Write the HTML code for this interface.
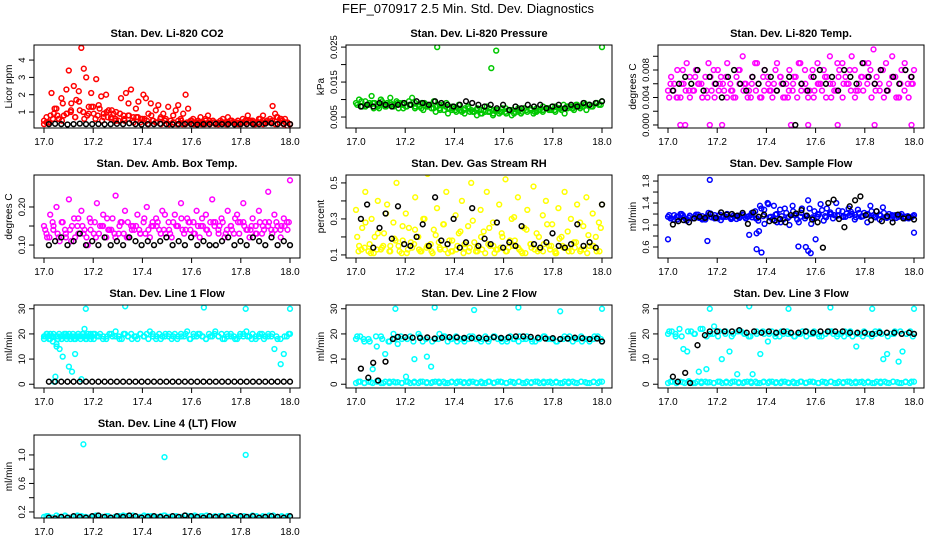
<!DOCTYPE html>
<html><head><meta charset="utf-8"><style>
html,body{margin:0;padding:0;background:#fff}
svg{display:block;font-family:"Liberation Sans",sans-serif}
</style></head><body>
<svg id="c" width="936" height="540" viewBox="0 0 936 540">
<text x="468" y="13" text-anchor="middle" font-size="13">FEF_070917  2.5 Min. Std. Dev. Diagnostics</text>
</svg>
<script>
// ---- data (y values; x spread evenly over given time span) ----
const xTicks=[17.0,17.2,17.4,17.6,17.8,18.0];
const co2Red=[0.5,0.7,0.4,2.1,0.9,1.2,0.6,1.8,0.8,2.3,3.4,1.5,2.5,1.7,2.2,4.7,3.5,3.0,1.3,2.1,0.9,2.9,1.4,1.9,0.7,2.0,1.1,0.6,0.9,1.0,0.5,1.8,0.8,2.1,1.5,2.3,0.7,1.2,1.6,0.6,2.0,1.8,0.9,1.5,0.5,1.1,1.4,0.7,0.9,0.6,1.3,0.5,0.8,1.1,1.4,0.6,0.9,2.0,1.2,0.5,0.6,0.4,0.5,0.7,0.4,0.6,0.8,0.4,0.5,0.3,0.4,0.5,0.6,0.4,0.7,0.5,0.4,0.3,0.5,0.4,0.6,0.5,0.8,0.4,0.5,0.3,0.4,0.6,0.5,0.4,0.5,0.6,1.35,0.9,0.7,0.6,0.5,0.6,0.4,0.3];
const co2RedBase=[0.3,0.4,0.6,0.8,0.5,0.9,1.0,0.7,1.1,0.6,0.9,1.3,0.8,0.5,1.0,0.7,0.6,0.9,0.5,0.8,0.4,0.7,0.6,0.5,0.8,0.4,0.6,0.5,0.3,0.4,0.5,0.3,0.4,0.5,0.3,0.4,0.3,0.5,0.4,0.3,0.4,0.3,0.5,0.4,0.3,0.4,0.5,0.3,0.4,0.3,0.4,0.5,0.7,0.6,0.4,0.3];
const co2Red3=[0.4,0.8,1.2,0.6,1.5,0.9,1.1,0.7,1.6,1.0,0.8,1.3,0.6,1.2,0.9,0.7,1.1,0.5,0.9,0.6,0.8,0.5,0.7,0.4,0.6,0.3,0.5,0.4,0.3,0.5,0.3,0.4,0.3,0.5,0.3,0.4,0.3,0.4,0.3,0.5,0.3,0.4,0.3,0.4,0.3,0.5,0.4,0.3,0.4,0.3,0.5,0.4,0.6,0.8,0.5,0.4,0.3,0.4,0.3,0.2];
const co2Black=[0.3,0.32,0.3,0.28,0.3,0.33,0.3,0.3,0.31,0.29,0.3,0.32,0.3,0.35,0.3,0.28,0.3,0.3,0.32,0.3,0.29,0.3,0.31,0.3,0.28,0.3,0.3,0.32,0.3,0.3,0.29,0.3,0.31,0.3,0.3,0.33,0.35,0.3,0.32,0.3];
const presGreen=[0.009,0.010,0.008,0.0095,0.0085,0.011,0.009,0.008,0.010,0.0085,0.009,0.0105,0.008,0.0095,0.009,0.0085,0.008,0.0095,0.0105,0.009,0.0085,0.0075,0.009,0.008,0.0085,0.0095,0.008,0.007,0.0085,0.009,0.0075,0.008,0.007,0.0085,0.0065,0.0075,0.008,0.007,0.0065,0.0075,0.006,0.007,0.008,0.0065,0.0055,0.007,0.006,0.0075,0.0065,0.007,0.0055,0.0065,0.007,0.006,0.0075,0.0065,0.007,0.006,0.0075,0.007,0.0065,0.0075,0.007,0.008,0.0065,0.0075,0.007,0.006,0.0075,0.008,0.007,0.0085,0.0075,0.008,0.007,0.0085,0.008,0.009,0.0085,0.0095];
const presGreen2=[0.008,0.0085,0.009,0.0075,0.008,0.0085,0.009,0.0075,0.0085,0.008,0.009,0.008,0.0075,0.0085,0.008,0.007,0.0075,0.007,0.0065,0.007,0.006,0.0065,0.007,0.0065,0.006,0.007,0.0065,0.0075,0.007,0.0065,0.007,0.0075,0.007,0.0075,0.008,0.0075,0.008,0.0085,0.008,0.009];
const presGreen3=[0.0085,0.0095,0.008,0.009,0.0075,0.0085,0.0095,0.008,0.009,0.0085,0.0075,0.009,0.008,0.0085,0.0075,0.008,0.007,0.0085,0.0075,0.0065,0.0075,0.007,0.006,0.0075,0.0065,0.007,0.006,0.0075,0.0065,0.0055,0.007,0.0065,0.0075,0.006,0.007,0.0065,0.0075,0.007,0.006,0.0075,0.0065,0.007,0.0075,0.0065,0.007,0.008,0.0075,0.007,0.008,0.0075,0.0085,0.008,0.0075,0.0085,0.008,0.009,0.0085,0.008,0.009,0.0085];
const presOutX=[17.33,17.55,17.57,18.0];
const presOutY=[0.025,0.019,0.024,0.025];
const presBlack=[0.008,0.0085,0.008,0.009,0.0085,0.008,0.0085,0.009,0.0085,0.0095,0.009,0.0085,0.0095,0.009,0.0085,0.008,0.0085,0.0095,0.009,0.0085,0.008,0.0085,0.0075,0.0085,0.007,0.008,0.0075,0.0085,0.008,0.0085,0.0075,0.008,0.0085,0.0075,0.0085,0.008,0.009,0.0085,0.009,0.0095];
const tempMag=[0.005,0.007,0.006,0.008,0.004,0.006,0.009,0.007,0.005,0.008,0.006,0.004,0.007,0.009,0.005,0.006,0.008,0.007,0.005,0.009,0.006,0.004,0.007,0.008,0.010,0.006,0.005,0.007,0.009,0.006,0.004,0.008,0.007,0.005,0.006,0.009,0.007,0.004,0.006,0.008,0.005,0.007,0.009,0.006,0.008,0.004,0.007,0.005,0.009,0.006,0.008,0.007,0.010,0.006,0.005,0.008,0.009,0.007,0.006,0.010,0.008,0.005,0.007,0.009,0.006,0.008,0.011,0.007,0.005,0.008,0.009,0.006,0.010,0.007,0.004,0.008,0.009,0.006,0.007,0.008];
const tempMag2=[0.006,0.004,0.008,0.005,0.007,0.006,0.004,0.008,0.006,0.007,0.005,0.008,0.006,0.004,0.009,0.007,0.005,0.008,0.006,0.004,0.007,0.009,0.005,0.008,0.006,0.007,0.004,0.009,0.006,0.008,0.005,0.007,0.009,0.006,0.008,0.005,0.007,0.004,0.008,0.006];
const tempMag3=[0.004,0.005,0.004,0.006,0.005,0.004,0.005,0.006,0.004,0.005,0.007,0.004,0.005,0.006,0.004,0.005,0.004,0.006,0.005,0.004,0.006,0.005,0.004,0.005,0.006,0.004,0.005,0.007,0.004,0.005,0.006,0.004,0.005,0.006,0.005,0.004,0.006,0.005,0.004,0.006,0.005,0.007,0.004,0.006,0.005,0.004,0.006,0.005,0.007,0.004,0.005,0.006,0.004,0.005,0.007,0.004,0.006,0.005,0.004,0.006];
const tempZeroX=[17.05,17.07,17.17,17.22,17.5,17.57,17.69,17.84,17.99];
const tempZeroY=[0,0,0,0,0,0,0,0,0];
const tempBlack=[0.005,0.006,0.007,0.006,0.008,0.005,0.007,0.006,0.004,0.007,0.008,0.006,0.005,0.007,0.006,0.008,0.007,0.005,0.006,0.007,0.0,0.006,0.005,0.007,0.008,0.006,0.007,0.005,0.008,0.007,0.006,0.009,0.007,0.006,0.008,0.005,0.007,0.006,0.008,0.007];
const ambMag=[0.15,0.12,0.18,0.14,0.20,0.11,0.16,0.13,0.22,0.15,0.12,0.17,0.19,0.14,0.10,0.16,0.13,0.21,0.15,0.18,0.12,0.14,0.17,0.23,0.13,0.16,0.19,0.12,0.15,0.14,0.18,0.13,0.16,0.20,0.12,0.15,0.17,0.14,0.19,0.13,0.16,0.12,0.18,0.15,0.21,0.13,0.17,0.14,0.16,0.19,0.12,0.15,0.18,0.13,0.22,0.16,0.14,0.17,0.12,0.19,0.15,0.13,0.18,0.16,0.21,0.14,0.12,0.17,0.15,0.19,0.13,0.16,0.24,0.14,0.18,0.15,0.12,0.17,0.16,0.27];
const ambMag2=[0.13,0.16,0.12,0.14,0.11,0.15,0.13,0.17,0.12,0.15,0.14,0.13,0.16,0.12,0.15,0.14,0.13,0.15,0.16,0.14,0.13,0.15,0.14,0.16,0.13,0.15,0.14,0.16,0.15,0.13,0.14,0.16,0.15,0.14,0.13,0.15,0.16,0.14,0.15,0.14];
const ambMag3=[0.14,0.12,0.15,0.13,0.16,0.12,0.14,0.17,0.13,0.15,0.12,0.14,0.16,0.13,0.15,0.17,0.14,0.12,0.15,0.13,0.16,0.14,0.15,0.13,0.17,0.14,0.16,0.15,0.13,0.18,0.14,0.16,0.15,0.17,0.14,0.16,0.13,0.15,0.17,0.14,0.16,0.15,0.13,0.16,0.14,0.15,0.17,0.13,0.16,0.14,0.15,0.13,0.16,0.14,0.15,0.13,0.16,0.14,0.15,0.16];
const ambBlack=[0.10,0.11,0.12,0.10,0.11,0.13,0.10,0.11,0.10,0.12,0.10,0.11,0.10,0.12,0.11,0.10,0.11,0.10,0.11,0.12,0.10,0.11,0.10,0.12,0.10,0.11,0.10,0.10,0.11,0.12,0.10,0.11,0.10,0.12,0.11,0.10,0.12,0.10,0.11,0.10];
const rhYel=[0.35,0.15,0.25,0.45,0.12,0.30,0.20,0.40,0.13,0.22,0.38,0.15,0.28,0.50,0.12,0.18,0.33,0.25,0.14,0.42,0.20,0.12,0.30,0.55,0.16,0.24,0.36,0.13,0.27,0.45,0.18,0.12,0.32,0.22,0.40,0.14,0.26,0.50,0.17,0.12,0.35,0.23,0.45,0.15,0.28,0.13,0.38,0.20,0.52,0.14,0.30,0.18,0.42,0.12,0.25,0.35,0.16,0.48,0.22,0.13,0.32,0.40,0.15,0.27,0.12,0.36,0.20,0.45,0.14,0.30,0.17,0.38,0.12,0.26,0.42,0.15,0.33,0.20,0.28,0.38];
const rhYel2=[0.12,0.14,0.11,0.13,0.15,0.12,0.18,0.11,0.13,0.16,0.12,0.14,0.11,0.17,0.13,0.12,0.15,0.11,0.14,0.12,0.13,0.16,0.11,0.14,0.12,0.15,0.13,0.11,0.14,0.12,0.16,0.13,0.11,0.15,0.12,0.14,0.13,0.11,0.15,0.12];
const rhYel3=[0.2,0.13,0.28,0.16,0.11,0.22,0.14,0.33,0.12,0.19,0.15,0.26,0.11,0.17,0.24,0.13,0.3,0.15,0.12,0.21,0.14,0.27,0.11,0.18,0.13,0.23,0.16,0.12,0.29,0.14,0.2,0.11,0.25,0.15,0.13,0.22,0.12,0.18,0.31,0.14,0.11,0.24,0.16,0.13,0.2,0.12,0.27,0.15,0.11,0.19,0.14,0.23,0.12,0.17,0.28,0.13,0.21,0.15,0.12,0.25];
const rhBlack=[0.30,0.38,0.14,0.25,0.33,0.19,0.37,0.16,0.15,0.20,0.27,0.15,0.42,0.18,0.16,0.30,0.14,0.17,0.36,0.15,0.19,0.16,0.28,0.14,0.17,0.15,0.26,0.59,0.16,0.14,0.17,0.22,0.15,0.14,0.16,0.27,0.15,0.17,0.14,0.38];
const flowBlue=[1.15,1.12,1.18,1.10,1.20,1.14,1.08,1.17,1.12,1.19,1.13,1.16,1.10,1.22,1.14,1.18,1.12,1.09,1.16,1.20,1.13,1.17,1.11,1.15,1.19,1.12,1.16,1.14,1.25,1.08,1.30,1.02,1.40,1.15,1.35,1.05,1.28,1.10,1.22,1.00,1.35,1.18,1.05,1.30,1.12,1.45,1.02,1.25,1.15,1.38,1.08,1.30,1.20,1.12,1.40,1.18,1.25,1.15,1.30,1.20,1.10,1.28,1.15,1.22,1.05,1.35,1.18,1.25,1.10,1.32,1.15,1.20,1.12,1.18,1.15,1.20,1.12,1.16,1.14,1.18];
const flowBlue2=[1.12,1.15,1.18,1.13,1.16,1.12,1.17,1.14,1.19,1.15,1.13,1.17,1.15,1.18,1.12,1.16,1.14,1.19,1.16,1.13,1.18,1.15,1.17,1.14,1.19,1.16,1.2,1.17,1.15,1.18,1.14,1.16,1.19,1.15,1.17,1.13,1.16,1.18,1.15,1.14];
const flowBlue3=[1.18,1.1,1.14,1.2,1.11,1.16,1.13,1.19,1.1,1.15,1.21,1.12,1.17,1.14,1.2,1.11,1.16,1.13,1.18,1.15,1.22,1.12,1.35,1.28,1.38,1.1,1.2,1.05,1.3,1.15,1.25,1.1,1.22,1.16,1.3,1.12,1.2,1.27,1.14,1.23,1.18,1.26,1.15,1.21,1.24,1.19,1.22,1.16,1.2,1.25,1.14,1.19,1.22,1.15,1.18,1.13,1.17,1.15,1.12,1.16];
const flowOutX=[17.0,17.17,17.16,17.36,17.38,17.53,17.57,17.58,17.56,17.6,17.37,17.36,17.33,18.0];
const flowOutY=[0.74,1.82,0.71,0.56,0.5,0.61,0.53,0.49,0.6,0.74,0.89,0.85,0.82,0.86];
const flowBlack=[1.01,1.07,1.09,1.05,1.12,1.15,1.13,1.20,1.13,1.23,1.19,1.20,1.17,1.22,1.02,1.23,1.15,1.19,1.07,1.08,1.11,1.05,1.18,1.21,1.27,1.17,1.10,1.05,0.59,1.40,1.46,1.11,0.96,1.34,1.45,1.52,1.18,1.09,1.25,1.07,1.16,1.05,1.19,1.12,1.14,1.10];
const l1Cyan=[19,20,18,19,16,14,11,19,7,5,12,20,2,22,19,20,18,19,20,19,18,20,19,21,19,18,20,19,20,19,18,20,19,20,21,19,18,20,19,20,19,18,20,19,20,19,21,18,20,19,20,19,18,20,19,21,19,20,18,19,20,19,18,20,19,21,19,20,18,19,20,19,20,19,14,18,8,12,19,20];
const l1Cyan2=[18,19,20,19,18,20,19,17,1,3,15,18,20,19,18,19,20,19,18,19,20,18,19,20,19,18,19,20,19,18,19,20,19,18,19,20,19,18,19,20];
const l1Cyan3=[19,18,20,19,18,20,19,18,19,20,18,19,20,19,18,19,20,19,18,20,19,18,19,20,19,18,20,19,18,19,20,19,18,19,20,18,19,20,19,18,19,20,19,18,20,19,18,19,20,19,18,19,20,18,19,20,19,18,19,20];
const l1OutX=[17.17,17.33,17.65,17.82,18.0];
const l1OutY=[30,31,30.5,30,30];
const l1Black=[1,1,1,1,1,1,1,1,1,1,1,1,1,1,1,1,1,1,1,1,1,1,1,1,1,1,1,1,1,1,1,1,1,1,1,1,1,1,1,1];
const l2CyanTop=[18,19,17,18,6,15,19,12,17,20,16,18,3,19,10,20,17,11,7,18,20,19,17,18,19,18,17,18,19,18,17,19,18,19,18,17,18,19,18,17,18,19,18,17,18,19,18,18,17,18,19,18,17,18,19,18,17,18,19,17];
const l2CyanTop2=[19,18,17,19,18,17,18,19,18,17,19,18,17,18,19,18,17,18,19,18,18,17,19,18,17,18,19,18,17,18,19,18,17,18,19,18,17,18,19,18];
const l2CyanBot=[0.5,1,0.5,1,0.5,1.2,0.5,1,0.5,1,0.8,0.5,1,0.5,1,0.5,1,0.8,0.5,1,0.5,1,0.5,1,0.5,1,0.8,0.5,1,0.5,1,0.5,1,0.5,1,0.8,0.5,1,0.5,1,0.5,1,0.5,1,0.5,1,0.8,0.5,1,0.5,1,0.5,1,0.5,1,0.8,0.5,1,0.5,1];
const l2CyanBot2=[1,0.5,0.8,1,0.5,1,0.7,0.5,1,0.6,1,0.5,0.9,1,0.5,0.8,1,0.5,1,0.7,0.5,1,0.6,1,0.5,0.9,1,0.5,0.8,1,0.5,1,0.7,0.5,1,0.6,1,0.5,0.9,1];
const l2OutX=[17.16,17.32,17.48,17.66,17.83,18.0];
const l2OutY=[30,30.5,29.5,30.5,29,30];
const l2BlackX=[17.02,17.05,17.07,17.09,17.12,17.15,17.17,17.2,17.23,17.26,17.29,17.32,17.35,17.38,17.41,17.44,17.47,17.5,17.53,17.56,17.59,17.62,17.65,17.68,17.71,17.74,17.77,17.8,17.83,17.86,17.89,17.92,17.95,17.98,18.0];
const l2BlackY=[6.2,2.6,8.5,1.5,9,18,18.8,18.7,18.5,18.4,18.6,18.2,18.5,18.7,18.6,18.4,18.3,18.5,18.2,18.7,18.4,18.6,19,19,18.8,18.5,18.2,18.3,18,18.2,18.5,18.3,18,18.2,17];
const l3CyanTop=[20,21,19,22,14,13,21,20,5,22,6,20,23,19,10,21,13,20,4,21,20,19,4,21,12,20,17,21,20,19,20,21,20,19,20,21,19,20,21,20,19,20,21,20,19,20,21,20,19,15,20,21,20,19,20,21,10,12,20,21,9,13,20,21,20];
const l3CyanTop2=[21,20,19,21,20,22,19,20,21,20,19,21,20,19,20,21,20,19,21,20,19,20,21,20,19,20,21,20,19,21,20,19,20,21,20,19,20,21,20,19];
const l3CyanBot=[0.5,1,0.5,1,0.5,1.2,0.5,1,0.5,1,0.8,0.5,1,0.5,1,0.5,1,0.8,0.5,1,0.5,1,0.5,1,0.5,1,0.8,0.5,1,0.5,1,0.5,1,0.5,1,0.8,0.5,1,0.5,1,0.5,1,0.5,1,0.5,1,0.8,0.5,1,0.5,1,0.5,1,0.5,1,0.8,0.5,1,0.5,1];
const l3CyanBot2=[1,0.5,0.8,1,0.5,1,0.7,0.5,1,0.6,1,0.5,0.9,1,0.5,0.8,1,0.5,1,0.7,0.5,1,0.6,1,0.5,0.9,1,0.5,0.8,1,0.5,1,0.7,0.5,1,0.6,1,0.5,0.9,1];
const l3OutX=[17.17,17.33,17.49,17.66,17.83,18.0];
const l3OutY=[30,31,30,30.5,30,30];
const l3BlackX=[17.02,17.04,17.07,17.09,17.12,17.15,17.17,17.2,17.23,17.26,17.29,17.32,17.35,17.38,17.41,17.44,17.47,17.5,17.53,17.56,17.59,17.62,17.65,17.68,17.71,17.74,17.77,17.8,17.83,17.86,17.89,17.92,17.95,17.98,18.0];
const l3BlackY=[3,1,4.5,0.5,15.5,19.5,21,21,21,21,21.5,20.5,21,20.5,21,20.5,21,20.5,20.5,21,20.5,21,21,21,21,20.5,20.5,20.5,20,20.5,20.5,20.5,20,20.5,20];
const l4Cyan=[0.13,0.14,0.12,0.15,0.13,0.14,0.12,0.13,0.15,0.14,0.13,0.12,0.14,0.15,0.13,0.14,0.12,0.13,0.14,0.15,0.13,0.12,0.14,0.13,0.15,0.14,0.12,0.13,0.14,0.15,0.13,0.14,0.12,0.13,0.15,0.14,0.13,0.12,0.14,0.15,0.13,0.14,0.12,0.13,0.14,0.15,0.13,0.12,0.14,0.13,0.15,0.14,0.12,0.13,0.14,0.15,0.13,0.14,0.12,0.13];
const l4Cyan2=[0.14,0.12,0.13,0.15,0.12,0.14,0.13,0.12,0.15,0.13,0.14,0.12,0.13,0.14,0.15,0.12,0.13,0.14,0.12,0.15,0.13,0.14,0.12,0.13,0.15,0.14,0.12,0.13,0.14,0.12,0.15,0.13,0.14,0.12,0.13,0.14,0.15,0.12,0.13,0.14];
const l4OutX=[17.16,17.49,17.82];
const l4OutY=[1.15,0.97,1.0];
const l4Black=[0.12,0.11,0.13,0.12,0.14,0.13,0.12,0.14,0.15,0.13,0.12,0.14,0.13,0.15,0.14,0.12,0.13,0.14,0.13,0.12,0.14,0.13,0.15,0.14,0.13,0.12,0.14,0.13,0.14,0.13,0.12,0.14,0.13,0.14,0.12,0.13,0.14,0.13,0.12,0.14];

const C={red:'#ff0000',grn:'#00c800',mag:'#ff00ff',yel:'#ffff00',blu:'#0000ff',cyn:'#00ffff',blk:'#000000'};
function even(vals,x0,x1){return vals.map((v,i)=>[x0+(x1-x0)*i/Math.max(1,vals.length-1),v]);}
function pairs(xs,ys){return xs.map((x,i)=>[x,ys[i]]);}
const panels=[
 {t:'Stan. Dev. Li-820 CO2',yl:'Licor ppm',c:0,r:0,y0:0.077,y1:4.87,yt:[1,2,3,4],fmt:v=>String(v),s:[[even(co2Red,17.0,18.0),C.red],[even(co2RedBase,17.0,18.0),C.red],[even(co2Red3,17.01,17.99),C.red],[even(co2Black,17.02,18.0),C.blk]]},
 {t:'Stan. Dev. Li-820 Pressure',yl:'kPa',c:1,r:0,y0:0.00186,y1:0.0256,yt:[0.005,0.010,0.015,0.020,0.025],ytl:[0.005,0.015,0.025],fmt:v=>v.toFixed(3),s:[[even(presGreen,17.0,18.0),C.grn],[even(presGreen2,17.02,17.98),C.grn],[even(presGreen3,17.005,17.995),C.grn],[pairs(presOutX,presOutY),C.grn],[even(presBlack,17.02,18.0),C.blk]]},
 {t:'Stan. Dev. Li-820 Temp.',yl:'degrees C',c:2,r:0,y0:-0.00044,y1:0.01164,yt:[0,0.002,0.004,0.006,0.008,0.010],ytl:[0,0.004,0.008],fmt:v=>v.toFixed(3),s:[[even(tempMag,17.0,18.0),C.mag],[even(tempMag2,17.01,17.99),C.mag],[even(tempMag3,17.005,17.995),C.mag],[pairs(tempZeroX,tempZeroY),C.mag],[even(tempBlack,17.02,17.99),C.blk]]},
 {t:'Stan. Dev. Amb. Box Temp.',yl:'degrees C',c:0,r:1,y0:0.066,y1:0.284,yt:[0.10,0.15,0.20],ytl:[0.10,0.20],fmt:v=>v.toFixed(2),s:[[even(ambMag,17.0,18.0),C.mag],[even(ambMag2,17.01,17.99),C.mag],[even(ambMag3,17.005,17.995),C.mag],[even(ambBlack,17.02,18.0),C.blk]]},
 {t:'Stan. Dev. Gas Stream RH',yl:'percent',c:1,r:1,y0:0.083,y1:0.544,yt:[0.1,0.2,0.3,0.4,0.5],ytl:[0.1,0.3,0.5],fmt:v=>v.toFixed(1),s:[[even(rhYel,17.0,18.0),C.yel],[even(rhYel2,17.01,17.99),C.yel],[even(rhYel3,17.005,17.995),C.yel],[even(rhBlack,17.02,18.0),C.blk]]},
 {t:'Stan. Dev. Sample Flow',yl:'ml/min',c:2,r:1,y0:0.4,y1:1.91,yt:[0.6,0.8,1.0,1.2,1.4,1.6,1.8],ytl:[0.6,1.0,1.4,1.8],fmt:v=>v.toFixed(1),s:[[even(flowBlue,17.0,18.0),C.blu],[even(flowBlue2,17.01,17.99),C.blu],[even(flowBlue3,17.005,17.995),C.blu],[pairs(flowOutX,flowOutY),C.blu],[even(flowBlack,17.02,18.0),C.blk]]},
 {t:'Stan. Dev. Line 1 Flow',yl:'ml/min',c:0,r:2,y0:-1.5,y1:31.5,yt:[0,10,20,30],fmt:v=>String(v),s:[[even(l1Cyan,17.0,18.0),C.cyn],[even(l1Cyan2,17.0,17.2),C.cyn],[even(l1Cyan3,17.005,17.995),C.cyn],[pairs(l1OutX,l1OutY),C.cyn],[even(l1Black,17.02,18.0),C.blk]]},
 {t:'Stan. Dev. Line 2 Flow',yl:'ml/min',c:1,r:2,y0:-1.5,y1:31.5,yt:[0,10,20,30],fmt:v=>String(v),s:[[even(l2CyanTop,17.0,18.0),C.cyn],[even(l2CyanTop2,17.005,17.995),C.cyn],[even(l2CyanBot,17.0,18.0),C.cyn],[even(l2CyanBot2,17.01,17.99),C.cyn],[pairs(l2OutX,l2OutY),C.cyn],[pairs(l2BlackX,l2BlackY),C.blk]]},
 {t:'Stan. Dev. Line 3 Flow',yl:'ml/min',c:2,r:2,y0:-1.5,y1:31.5,yt:[0,10,20,30],fmt:v=>String(v),s:[[even(l3CyanTop,17.0,18.0),C.cyn],[even(l3CyanTop2,17.005,17.995),C.cyn],[even(l3CyanBot,17.0,18.0),C.cyn],[even(l3CyanBot2,17.01,17.99),C.cyn],[pairs(l3OutX,l3OutY),C.cyn],[pairs(l3BlackX,l3BlackY),C.blk]]},
 {t:'Stan. Dev. Line 4 (LT) Flow',yl:'ml/min',c:0,r:3,y0:0.115,y1:1.28,yt:[0.2,0.4,0.6,0.8,1.0],ytl:[0.2,0.6,1.0],fmt:v=>v.toFixed(1),s:[[even(l4Cyan,17.0,18.0),C.cyn],[even(l4Cyan2,17.01,17.99),C.cyn],[pairs(l4OutX,l4OutY),C.cyn],[even(l4Black,17.02,18.0),C.blk]]}
];
const NS='http://www.w3.org/2000/svg';
const svg=document.getElementById('c');
function mk(tag,at,parent,txt){const e=document.createElementNS(NS,tag);for(const k in at)e.setAttribute(k,at[k]);if(txt!==undefined)e.textContent=txt;(parent||svg).appendChild(e);return e;}
panels.forEach((p,pi)=>{
 const L=34+312*p.c,R=L+266,T=45+130*p.r,B=T+83;
 const xs=v=>L+10+(v-17)*246;
 const ys=v=>B-(v-p.y0)/(p.y1-p.y0)*(B-T);
 const g=mk('g',{});
 
 
 const tt=mk('text',{x:(L+R)/2,y:T-8,'text-anchor':'middle','font-size':11,'font-weight':'bold'},g,p.t);
 
 
 const cp=mk('clipPath',{id:'cp'+pi},g);mk('rect',{x:L,y:T,width:R-L,height:B-T},cp);
 const pts=mk('g',{'clip-path':'url(#cp'+pi+')',fill:'none','stroke-width':1.5},g);
 
 
 p.s.forEach(([arr,col])=>arr.forEach(([x,y])=>{
  const c=mk('circle',{cx:xs(x).toFixed(1),cy:ys(y).toFixed(1),r:2.4,stroke:col},pts);
  
  
 }));
 const box=mk('rect',{x:L,y:T,width:R-L,height:B-T,fill:'none',stroke:'#000','stroke-width':1},g);
 
 
 xTicks.forEach(v=>{const x=xs(v);mk('line',{x1:x,x2:x,y1:B,y2:B+5,stroke:'#000'},g);
  const t=mk('text',{x:x,y:B+17,'text-anchor':'middle','font-size':10},g,v.toFixed(1));
  
  });
 const lab=p.ytl||p.yt;
 p.yt.forEach(v=>{const y=ys(v);mk('line',{x1:L-5,x2:L,y1:y,y2:y,stroke:'#000'},g);});
 lab.forEach(v=>{const y=ys(v);
  const t=mk('text',{x:L-9,y:y,'text-anchor':'middle','font-size':9.5,transform:`rotate(-90 ${L-9} ${y})`},g,p.fmt(v));
  
  });
 const yl=mk('text',{x:L-22,y:(T+B)/2,'text-anchor':'middle','font-size':10,transform:`rotate(-90 ${L-22} ${(T+B)/2})`},g,p.yl);
 
 
});
</script>
</body></html>
